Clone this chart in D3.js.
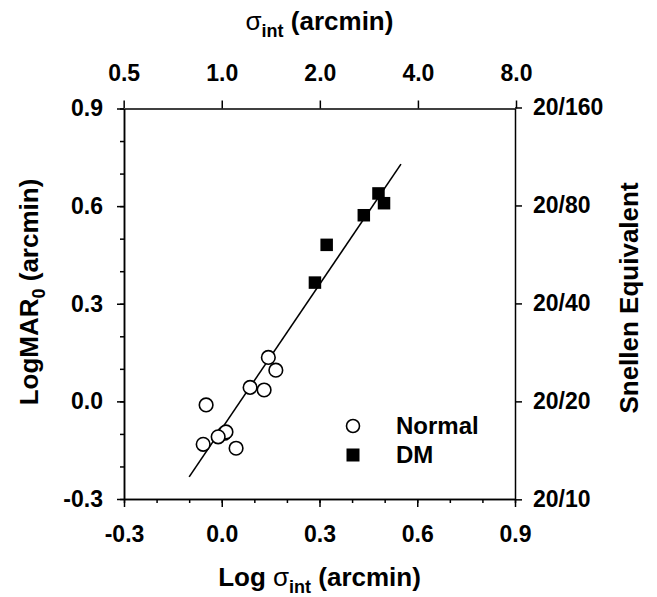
<!DOCTYPE html>
<html>
<head>
<meta charset="utf-8">
<script src="https://cdn.jsdelivr.net/npm/d3@7"></script>
<style>
body { margin: 0; background: #fff; }
svg text { font-family: "Liberation Sans", Arial, sans-serif; font-weight: bold; fill: #000; }
.axis path, .axis line { stroke: #000; stroke-width: 1.5; }
.axis text { font-size: 23px; }
</style>
</head>
<body>
<svg class="chart" width="657" height="597"></svg>
<script>
// values
const normalX = [0.143, 0.166, 0.087, 0.130, -0.048, 0.008, 0.013, -0.011, -0.057, 0.044];
const normalY = [0.135, 0.096, 0.043, 0.035, -0.011, -0.098, -0.094, -0.109, -0.132, -0.144];
const dmX = [0.481, 0.498, 0.436, 0.322, 0.286];
const dmY = [0.639, 0.609, 0.572, 0.481, 0.365];
const fitX = [-0.10, 0.55];
const fitY = [-0.232, 0.729];

const logTicks = [-0.3, 0.0, 0.3, 0.6, 0.9];
const minorTicks = [-0.3, -0.2, -0.1, 0.0, 0.1, 0.2, 0.3, 0.4, 0.5, 0.6, 0.7, 0.8, 0.9];
const sigmaTicks = [0.5, 1, 2, 4, 8];
const snellenTicks = [10, 20, 40, 80, 160];
const legendLabels = ['Normal', 'DM'];

const svg = d3.select('svg.chart');
const pLeft = 124, pRight = 515, pTop = 108.5, pBottom = 499;

const xScale = d3.scaleLinear().domain([-0.3, 0.9]).range([pLeft, pRight]);
const yScale = d3.scaleLinear().domain([-0.3, 0.9]).range([pBottom, pTop]);
// top axis: sigma in arcmin, log spaced
const sScale = d3.scaleLog().domain([Math.pow(10, -0.3), Math.pow(10, 0.9)]).range([pLeft, pRight]);
// right axis: snellen denominator, 20/20 at logMAR 0
const snScale = d3.scaleLog().domain([20 * Math.pow(10, -0.3), 20 * Math.pow(10, 0.9)]).range([pBottom, pTop]);

const fmt = (d) => d.toFixed(1);

// minor ticks
svg.append('g').attr('class', 'axis')
  .attr('transform', `translate(0, ${pBottom})`)
  .call(d3.axisBottom(xScale).tickValues(minorTicks).tickSize(4).tickSizeOuter(0).tickFormat(''));
svg.append('g').attr('class', 'axis')
  .attr('transform', `translate(${pLeft}, 0)`)
  .call(d3.axisLeft(yScale).tickValues(minorTicks).tickSize(4).tickSizeOuter(0).tickFormat(''));

// bottom axis
svg.append('g').attr('class', 'axis')
  .attr('transform', `translate(0, ${pBottom})`)
  .call(d3.axisBottom(xScale).tickValues(logTicks).tickSize(8).tickPadding(19).tickSizeOuter(0).tickFormat(fmt));

// left axis
svg.append('g').attr('class', 'axis')
  .attr('transform', `translate(${pLeft}, 0)`)
  .call(d3.axisLeft(yScale).tickValues(logTicks).tickSize(7).tickPadding(14).tickSizeOuter(0).tickFormat(fmt));

// top axis
svg.append('g').attr('class', 'axis')
  .attr('transform', `translate(0, ${pTop})`)
  .call(d3.axisTop(sScale).tickValues(sigmaTicks).tickSize(8).tickPadding(20).tickSizeOuter(0).tickFormat(fmt));

// right axis
svg.append('g').attr('class', 'axis')
  .attr('transform', `translate(${pRight}, 0)`)
  .call(d3.axisRight(snScale).tickValues(snellenTicks).tickSize(7).tickPadding(11).tickSizeOuter(0).tickFormat((d) => '20/' + d));

// fit line
const fit = fitX.map((x, i) => [x, fitY[i]]);
svg.append('path')
  .datum(fit)
  .attr('fill', 'none')
  .attr('stroke', '#000')
  .attr('stroke-width', 1.6)
  .attr('d', d3.line().x((d) => xScale(d[0])).y((d) => yScale(d[1])));

// DM squares
const sq = 12.5;
svg.append('g').selectAll('rect')
  .data(dmX.map((x, i) => [x, dmY[i]]))
  .enter().append('rect')
  .attr('x', (d) => xScale(d[0]) - sq / 2)
  .attr('y', (d) => yScale(d[1]) - sq / 2)
  .attr('width', sq)
  .attr('height', sq)
  .attr('fill', '#000');

// normal circles
svg.append('g').selectAll('circle')
  .data(normalX.map((x, i) => [x, normalY[i]]))
  .enter().append('circle')
  .attr('cx', (d) => xScale(d[0]))
  .attr('cy', (d) => yScale(d[1]))
  .attr('r', 6.8)
  .attr('fill', '#fff')
  .attr('stroke', '#000')
  .attr('stroke-width', 1.6);

// legend
const leg = svg.append('g').attr('transform', 'translate(353, 426)');
leg.append('circle').attr('cx', 0).attr('cy', 0).attr('r', 6.5)
  .attr('fill', '#fff').attr('stroke', '#000').attr('stroke-width', 1.6);
leg.append('rect').attr('x', -6.5).attr('y', 29 - 6.5).attr('width', 13).attr('height', 13).attr('fill', '#000');
leg.selectAll('text.leg')
  .data(legendLabels)
  .enter().append('text')
  .attr('class', 'leg')
  .attr('x', 43)
  .attr('y', (d, i) => i * 29)
  .attr('dy', '0.35em')
  .style('font-size', '24px')
  .text((d) => d);

// axis titles
const bt = svg.append('text')
  .attr('x', (pLeft + pRight) / 2)
  .attr('y', 586)
  .attr('text-anchor', 'middle')
  .style('font-size', '26px');
bt.append('tspan').text('Log ');
bt.append('tspan').style('font-weight', 'normal').text('σ');
bt.append('tspan').attr('dy', 7).style('font-size', '18px').text('int');
bt.append('tspan').attr('dy', -7).text(' (arcmin)');

const tt = svg.append('text')
  .attr('x', (pLeft + pRight) / 2)
  .attr('y', 30)
  .attr('text-anchor', 'middle')
  .style('font-size', '26px');
tt.append('tspan').style('font-weight', 'normal').text('σ');
tt.append('tspan').attr('dy', 7).style('font-size', '18px').text('int');
tt.append('tspan').attr('dy', -7).text(' (arcmin)');

const lt = svg.append('text')
  .attr('transform', 'translate(38, 292) rotate(-90)')
  .attr('text-anchor', 'middle')
  .style('font-size', '26px');
lt.append('tspan').text('LogMAR');
lt.append('tspan').attr('dy', 7).style('font-size', '18px').text('0');
lt.append('tspan').attr('dy', -7).text(' (arcmin)');

svg.append('text')
  .attr('transform', 'translate(638, 298) rotate(-90)')
  .attr('text-anchor', 'middle')
  .style('font-size', '26px')
  .text('Snellen Equivalent');
</script>
</body>
</html>
